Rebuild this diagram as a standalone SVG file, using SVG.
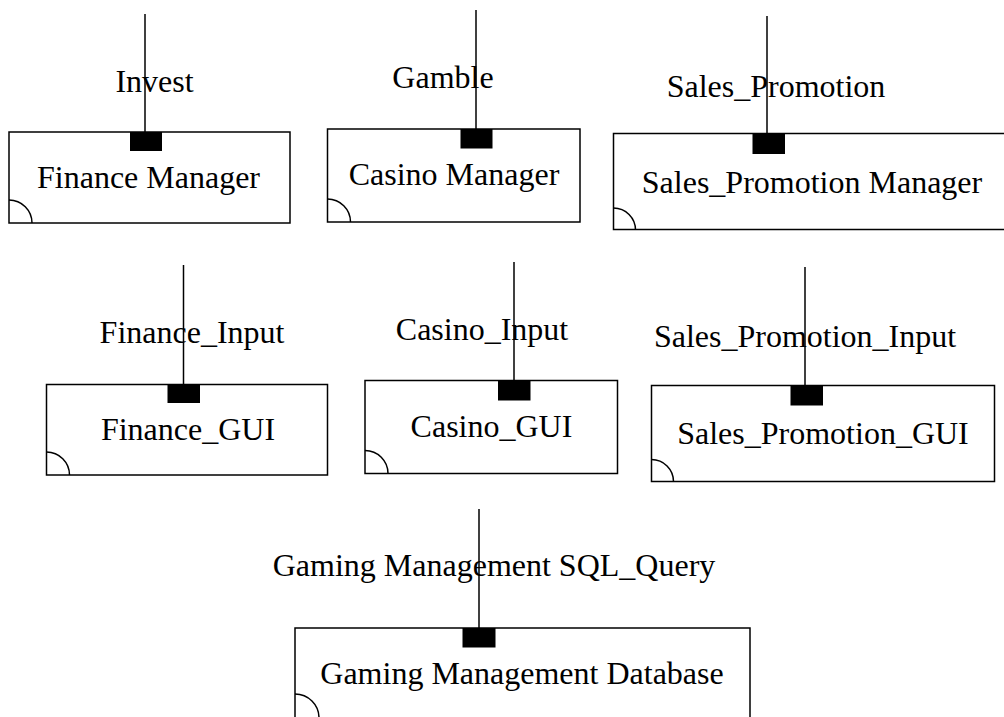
<svg xmlns="http://www.w3.org/2000/svg" width="1004" height="717" viewBox="0 0 1004 717">
  <style>
    .box { fill: #fff; stroke: #000; stroke-width: 1.5; }
    .corner { fill: none; stroke: #000; stroke-width: 1.5; }
    .port { fill: #000; }
    .wire { stroke: #000; stroke-width: 1.5; fill: none; }
    text { font-family: "Liberation Serif", "Times New Roman", serif; font-size: 32px; fill: #000; text-anchor: middle; }
  </style>
  <rect width="1004" height="717" fill="#fff"/>

  <!-- components -->
  <g id="finance-manager">
    <rect class="box" x="9" y="132" width="281" height="91"/>
    <path class="corner" d="M9 200 A23 23 0 0 1 32 223"/>
    <rect class="port" x="130" y="132" width="32" height="19"/>
    <text x="148.5" y="188">Finance Manager</text>
  </g>
  <g id="casino-manager">
    <rect class="box" x="327.5" y="129" width="252.5" height="93"/>
    <path class="corner" d="M327.5 199 A23 23 0 0 1 350.5 222"/>
    <rect class="port" x="460.5" y="129" width="32" height="19.5"/>
    <text x="454" y="185">Casino Manager</text>
  </g>
  <g id="sales-promotion-manager">
    <rect class="box" x="613.5" y="133.5" width="400" height="96"/>
    <path class="corner" d="M613.5 208 A22 22 0 0 1 635.5 230"/>
    <rect class="port" x="752.5" y="133.5" width="32.5" height="20.5"/>
    <text x="812" y="193">Sales_Promotion Manager</text>
  </g>
  <g id="finance-gui">
    <rect class="box" x="46.5" y="384.5" width="281" height="90.5"/>
    <path class="corner" d="M46.5 452 A23 23 0 0 1 69.5 475"/>
    <rect class="port" x="167.5" y="384.5" width="32.5" height="18.5"/>
    <text x="188" y="440">Finance_GUI</text>
  </g>
  <g id="casino-gui">
    <rect class="box" x="365" y="380.5" width="252.5" height="93"/>
    <path class="corner" d="M365 450.5 A23 23 0 0 1 388 473.5"/>
    <rect class="port" x="498" y="380.5" width="32.5" height="20"/>
    <text x="491.5" y="437">Casino_GUI</text>
  </g>
  <g id="sales-promotion-gui">
    <rect class="box" x="651.5" y="385.5" width="343" height="96"/>
    <path class="corner" d="M651.5 459.5 A22 22 0 0 1 673.5 481.5"/>
    <rect class="port" x="790.5" y="385.5" width="32.5" height="20"/>
    <text x="823" y="444">Sales_Promotion_GUI</text>
  </g>
  <g id="gaming-management-database">
    <rect class="box" x="295" y="628" width="455" height="100"/>
    <path class="corner" d="M295 694 A24 24 0 0 1 319 718"/>
    <rect class="port" x="462.5" y="628" width="33" height="19.5"/>
    <text x="522" y="683.5">Gaming Management Database</text>
  </g>

  <!-- provided interfaces: lollipop stems with their labels -->
  <g id="connectors">
    <line class="wire" x1="145" y1="14" x2="145" y2="132"/>
    <line class="wire" x1="476" y1="10" x2="476" y2="129"/>
    <line class="wire" x1="767" y1="16" x2="767" y2="133.5"/>
    <line class="wire" x1="183.5" y1="265" x2="183.5" y2="384.5"/>
    <line class="wire" x1="514" y1="262" x2="514" y2="380.5"/>
    <line class="wire" x1="805" y1="267" x2="805" y2="385.5"/>
    <line class="wire" x1="479" y1="509" x2="479" y2="628"/>
    <text x="154.5" y="92">Invest</text>
    <text x="443" y="88">Gamble</text>
    <text x="776" y="97">Sales_Promotion</text>
    <text x="192" y="343">Finance_Input</text>
    <text x="482" y="340">Casino_Input</text>
    <text x="805" y="347">Sales_Promotion_Input</text>
    <text x="494" y="576">Gaming Management SQL_Query</text>
  </g>
</svg>
